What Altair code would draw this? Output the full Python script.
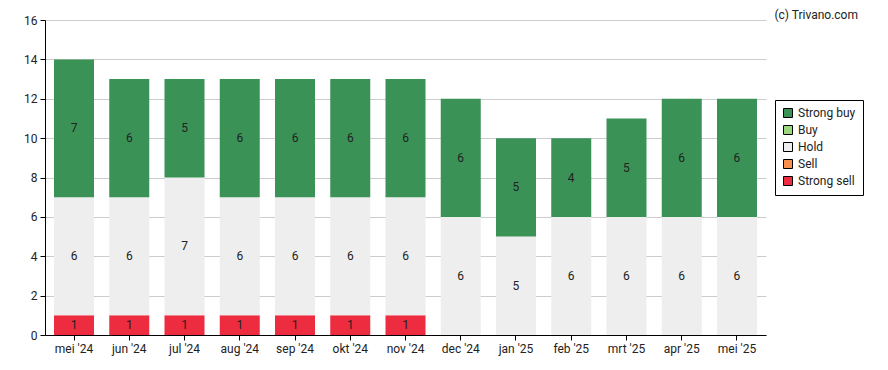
import altair as alt
import pandas as pd

months = ["mei '24", "jun '24", "jul '24", "aug '24", "sep '24", "okt '24", "nov '24",
          "dec '24", "jan '25", "feb '25", "mrt '25", "apr '25", "mei '25"]
strong_sell = [1, 1, 1, 1, 1, 1, 1, 0, 0, 0, 0, 0, 0]
sell = [0] * 13
hold = [6, 6, 7, 6, 6, 6, 6, 6, 5, 6, 6, 6, 6]
buy = [0] * 13
strong_buy = [7, 6, 5, 6, 6, 6, 6, 6, 5, 4, 5, 6, 6]

categories = ["Strong buy", "Buy", "Hold", "Sell", "Strong sell"]
colors = ["#3a9256", "#9bd67c", "#eeeeee", "#f7904d", "#ee2c3f"]
series = {"Strong sell": strong_sell, "Sell": sell, "Hold": hold, "Buy": buy, "Strong buy": strong_buy}
stack_order = ["Strong sell", "Sell", "Hold", "Buy", "Strong buy"]

rows = []
for i, m in enumerate(months):
    base = 0
    for rank, cat in enumerate(stack_order):
        v = series[cat][i]
        rows.append({"month": m, "cat": cat, "rank": rank, "value": v,
                     "y0": base, "y1": base + v, "mid": base + v / 2})
        base += v
df = pd.DataFrame(rows)

font = "Roboto"

x_axis = alt.Axis(labelAngle=0, domainColor="#000", tickColor="#000",
                  tickSize=5, labelFontSize=12, labelColor="#222",
                  labelPadding=3, grid=False, labelFont=font)
y_axis = alt.Axis(values=list(range(0, 17, 2)), domainColor="#000",
                  tickColor="#000", tickSize=5, labelFontSize=12,
                  labelColor="#222", gridColor="#cccccc", labelPadding=3,
                  labelFont=font, labelOverlap=False)
x_scale = alt.Scale(paddingInner=0.276, paddingOuter=0.163)
y_scale = alt.Scale(domain=[0, 16], nice=False)

bars = alt.Chart(df).mark_bar().encode(
    x=alt.X("month:N", sort=months, title=None, scale=x_scale, axis=x_axis),
    y=alt.Y("y0:Q", title=None, scale=y_scale, axis=y_axis),
    y2="y1:Q",
    color=alt.Color("cat:N", title=None,
                    scale=alt.Scale(domain=categories, range=colors),
                    legend=alt.Legend(orient="none", legendX=730, legendY=80,
                                      symbolType="square", symbolSize=81,
                                      symbolStrokeColor="#000", symbolStrokeWidth=1,
                                      labelFontSize=12, labelFont=font, labelColor="#222",
                                      strokeColor="#000", padding=7, rowPadding=3,
                                      labelOffset=4)),
)

labels = alt.Chart(df).transform_filter("datum.value > 0").mark_text(
    fontSize=12, font=font, color="#222", baseline="middle"
).encode(
    x=alt.X("month:N", sort=months, title=None, scale=x_scale, axis=x_axis),
    y=alt.Y("mid:Q", title=None, scale=y_scale, axis=y_axis),
    text="value:Q",
)

copyright_df = pd.DataFrame({"t": ["(c) Trivano.com"]})
copy = alt.Chart(copyright_df).mark_text(
    fontSize=12, font=font, color="#222", align="right", baseline="top"
).encode(x=alt.value(813), y=alt.value(-10), text="t:N")

chart = alt.layer(bars, labels, copy).properties(
    width=721, height=315,
    autosize=alt.AutoSizeParams(type="none"),
    padding={"left": 37, "top": 12, "right": 114, "bottom": 27},
).configure_view(stroke=None).configure_axis(gridWidth=1)

chart.save("out.html", embed_options={"renderer": "svg", "actions": False})
